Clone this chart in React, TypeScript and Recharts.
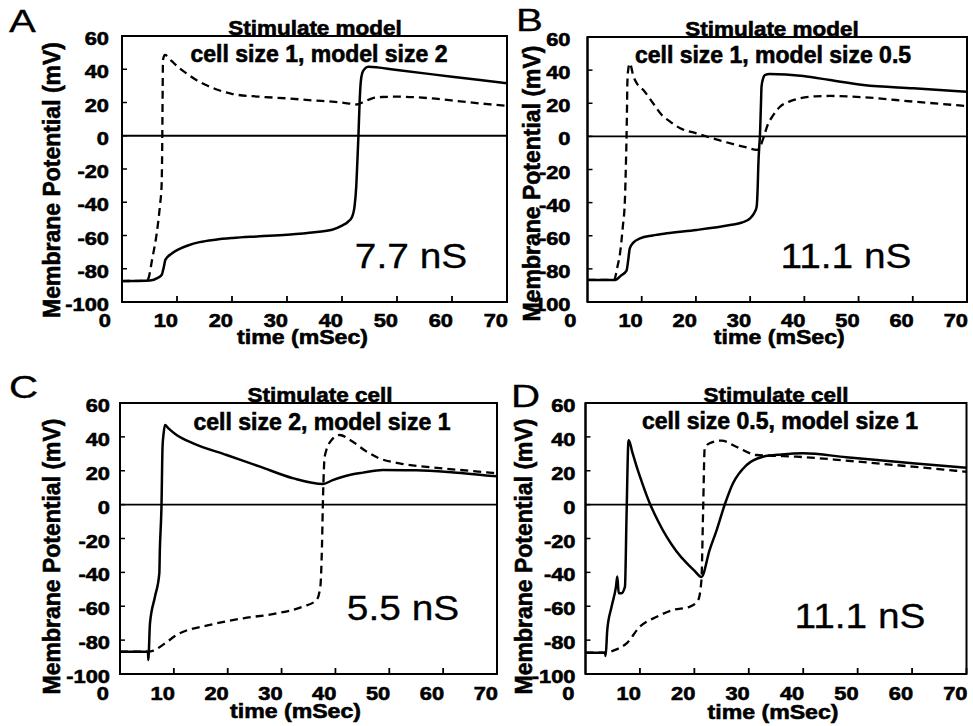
import React from 'react';
import { LineChart, Line, XAxis, YAxis, ReferenceLine, ReferenceArea } from 'recharts';

const FONT = '"Liberation Sans", Arial, Helvetica, sans-serif';

const timeTicks = [0, 10, 20, 30, 40, 50, 60, 70];
const voltTicks = [-100, -80, -60, -40, -20, 0, 20, 40, 60];

// Panel A — Stimulate model, cell size 1, model size 2 (7.7 nS)
const aCellT = [0, 5.1, 6.5, 7.2, 7.6, 7.9, 9, 10.2, 12, 14.1, 17, 20.1, 25, 30, 35, 38.2, 40, 41, 41.8, 42.3, 42.6, 42.8, 43, 43.2, 43.4, 43.7, 44.2, 44.8, 50, 60, 70];
const aCellV = [-87.4, -87, -85.5, -83.8, -79, -74.5, -71, -68.5, -66, -64, -62.5, -61.5, -60.5, -59.5, -58, -56.5, -54, -52, -49, -42, -30, -15, 1, 20, 32, 38, 40.5, 41.5, 39.5, 35.5, 31.5];
const aModelT = [0, 4.4, 4.8, 5.5, 6.3, 6.9, 7.2, 7.3, 7.35, 7.4, 7.45, 7.8, 9, 10.5, 11.7, 13.5, 15.3, 17.5, 20.1, 25, 30, 35, 38.2, 41, 42.7, 44, 45.5, 47.3, 50, 56.3, 62, 66.5, 70];
const aModelV = [-87.4, -87.2, -85.8, -74, -59, -42, -30, -10, 10, 30, 45.6, 48.6, 45, 40.5, 37.6, 33.5, 30.5, 27.5, 25.1, 23.5, 22.5, 21.2, 20.5, 19.5, 18.8, 20.5, 22.5, 23.3, 23.5, 22.5, 20.5, 19, 18];

// Panel B — Stimulate model, cell size 1, model size 0.5 (11.1 nS)
const bCellT = [0, 5.07, 6.2, 7.2, 7.5, 7.8, 8.5, 9.7, 12, 14.6, 20.1, 26.3, 28.5, 30, 30.8, 31.2, 31.4, 31.5, 31.7, 31.8, 32, 32.1, 32.4, 32.7, 33.6, 39.8, 44.7, 50.9, 60.1, 70];
const bCellV = [-86.7, -86.7, -84, -81.1, -75, -67.6, -64, -61.6, -59.8, -58.5, -56.5, -53.5, -52, -49.5, -46, -42.5, -30, -18.3, -5, -0.2, 20, 30, 35, 37, 37.6, 36.4, 34, 31, 29, 27];
const bModelT = [0, 4.9, 5.5, 6, 6.5, 6.9, 7.1, 7.2, 7.3, 7.35, 7.5, 7.8, 8.5, 9.1, 10.3, 12.1, 13.7, 15, 17.1, 20.1, 23.2, 26.9, 29.5, 31.2, 31.8, 32.1, 32.6, 33.1, 34.2, 35.5, 37.2, 39.2, 42, 44.7, 50.9, 60.1, 70];
const bModelV = [-86.7, -86.7, -79, -70.6, -55, -38.4, -15, -0.6, 20, 32, 40, 44, 36, 32, 28, 20, 12.9, 9.5, 4.9, 1.8, -1.3, -4.7, -6.8, -8.2, -6.5, -4.2, 0.5, 5.8, 12.5, 17.9, 21, 23, 24.2, 24.4, 23.6, 21, 18.3];

// Panel C — Stimulate cell, cell size 2, model size 1 (5.5 nS)
const cCellT = [0, 5.2, 5.25, 5.57, 6.5, 7.3, 7.4, 7.7, 7.9, 8.1, 8.35, 9, 10.5, 13.6, 19.8, 26, 32.2, 37.7, 39.5, 41.4, 43, 45.1, 48.8, 55, 62, 68.6, 70];
const cCellV = [-86.8, -86.8, -91.7, -70, -54.3, -40.6, -26.8, -1.2, 34.2, 42, 47, 45, 41.1, 36.2, 29.3, 22.4, 15.5, 12.2, 14.5, 16.5, 17.8, 18.9, 20.4, 20.3, 19, 17.1, 16.8];
const cModelT = [0, 5.3, 6.2, 8.35, 10.5, 16.7, 22.9, 29.1, 34, 36.5, 37.2, 37.5, 37.7, 38, 39.3, 40.8, 42.7, 45.8, 48, 51.9, 58, 63, 68.6, 70];
const cModelV = [-86.8, -86.8, -86.2, -81.9, -77, -71, -67.1, -64.2, -60.2, -56.3, -48.4, -24.8, 4.7, 28.3, 38.2, 41.1, 38.2, 31.3, 27.5, 24.4, 22, 20.5, 18.9, 18.5];

// Panel D — Stimulate cell, cell size 0.5, model size 1 (11.1 nS)
const dCellT = [0, 3.58, 3.7, 4.0, 4.8, 5.6, 5.84, 6.1, 6.6, 7.25, 7.55, 7.86, 7.95, 8.6, 9.4, 10.5, 11.8, 13.3, 14.9, 16.7, 18.6, 20, 21.3, 22.8, 24.1, 25.6, 27.1, 29.6, 32.6, 36, 40, 47.9, 60.1, 70];
const dCellV = [-87.4, -87.4, -89.3, -74, -60.2, -48.4, -42.5, -52.3, -52.3, -48.4, -5.1, 36.2, 38, 31, 22.4, 12, 0.8, -9.5, -18.9, -27.5, -34.6, -39, -42.7, -26.8, -15, 0.2, 12.6, 23.4, 28.3, 29.6, 30.3, 28, 24.4, 21.8];
const dModelT = [0, 3.6, 5.4, 7.55, 10, 13.1, 16.1, 19.2, 20.7, 21.3, 21.6, 21.9, 22.8, 25, 27.7, 31.4, 34.5, 38.8, 47.9, 60.1, 70];
const dModelV = [-87.4, -87.4, -85.8, -81.9, -72, -66.2, -62.2, -60.2, -56.3, -44.5, -5.1, 33.3, 36.2, 37.8, 34.2, 29.3, 28.8, 28.3, 26, 22.4, 19.4];

const zip = (ts: number[], vs: number[]) => ts.map((t, i) => ({ t, v: vs[i] }));

type STextProps = {
  x: number;
  y: number;
  size: number;
  sx?: number;
  bold?: boolean;
  anchor?: 'start' | 'middle' | 'end';
  rotate?: number;
  baseline?: string;
  children: React.ReactNode;
};

const SText = ({ x, y, size, sx = 1, bold = false, anchor = 'start', rotate = 0, baseline, children }: STextProps) => (
  <g transform={`translate(${x},${y}) rotate(${rotate}) scale(${sx},1)`}>
    <text
      x={0}
      y={0}
      textAnchor={anchor}
      dominantBaseline={baseline}
      fontFamily={FONT}
      fontWeight={bold ? 'bold' : 'normal'}
      fontSize={size}
      fill="#000"
      stroke="#000"
      strokeWidth={bold ? 0.6 : 0.3}
    >
      {children}
    </text>
  </g>
);

type PanelProps = {
  left: number;
  top: number;
  width: number;
  height: number;
  margin: { top: number; right: number; bottom: number; left: number };
  cell: { t: number; v: number }[];
  model: { t: number; v: number }[];
  yTickGap: number;
  yLabelOffset: number;
  yLabelDy: number;
  xLabelDx: number;
  xLabelDy: number;
  xTickDy: number;
};

const XTick = (props: any) => {
  const { x, y, payload, dy } = props;
  const val = payload.value;
  const dx = val === 0 ? -11 : 1;
  return (
    <g>
      {val !== 0 && <line x1={x} x2={x} y1={y} y2={y - 6} stroke="#000" strokeWidth={1.8} />}
      <SText x={x + dx} y={y + dy} size={19} sx={1.15} bold anchor="end">
        {val}
      </SText>
    </g>
  );
};

const YTick = (props: any) => {
  const { x, y, payload, gap } = props;
  const val = payload.value;
  return (
    <g>
      {val !== 60 && val !== -100 && <line x1={x} x2={x + 5} y1={y} y2={y} stroke="#000" strokeWidth={1.5} />}
      <SText x={x - gap} y={y + 9} size={19} sx={1.15} bold anchor="end">
        {val}
      </SText>
    </g>
  );
};

const Panel = (p: PanelProps) => {
  return (
    <div style={{ position: 'absolute', left: p.left, top: p.top }}>
      <LineChart width={p.width} height={p.height} margin={p.margin}>
        <XAxis
          type="number"
          dataKey="t"
          domain={[0, 70]}
          ticks={timeTicks}
          interval={0}
          allowDataOverflow
          height={40}
          tickSize={0}
          tickMargin={0}
          tickLine={false}
          axisLine={{ stroke: '#000', strokeWidth: 2 }}
          tick={(tp: any) => <XTick {...tp} dy={p.xTickDy} />}
          label={(lp: any) => {
            const vb = lp.viewBox;
            return (
              <SText x={vb.x + vb.width / 2 + p.xLabelDx} y={vb.y + p.xLabelDy} size={21} sx={1.1} bold anchor="middle">
                time (mSec)
              </SText>
            );
          }}
        />
        <YAxis
          type="number"
          domain={[-100, 60]}
          ticks={voltTicks}
          interval={0}
          allowDataOverflow
          width={60}
          tickSize={0}
          tickMargin={0}
          tickLine={false}
          axisLine={{ stroke: '#000', strokeWidth: 2 }}
          tick={(tp: any) => <YTick {...tp} gap={p.yTickGap} />}
          label={(lp: any) => {
            const vb = lp.viewBox;
            const cx = vb.x + vb.width + p.yLabelOffset;
            const cy = vb.y + vb.height / 2 + p.yLabelDy;
            return (
              <SText x={cx} y={cy} size={23} bold anchor="middle" rotate={-90} baseline="central">
                Membrane Potential (mV)
              </SText>
            );
          }}
        />
        <ReferenceArea x1={0} x2={70} y1={-100} y2={60} fill="none" fillOpacity={0} stroke="#000" strokeWidth={2} ifOverflow="visible" />
        <ReferenceLine y={0} stroke="#000" strokeWidth={1.8} />
        <Line
          data={p.model}
          dataKey="v"
          type="monotone"
          stroke="#000"
          strokeWidth={2.3}
          strokeDasharray="8 5"
          dot={false}
          isAnimationActive={false}
        />
        <Line
          data={p.cell}
          dataKey="v"
          type="monotone"
          stroke="#000"
          strokeWidth={2.5}
          dot={false}
          isAnimationActive={false}
        />
      </LineChart>
    </div>
  );
};

export default function App() {
  return (
    <div style={{ position: 'absolute', left: 0, top: 0, width: 973, height: 726, background: '#fff', overflow: 'hidden' }}>
      <Panel
        left={0}
        top={0}
        width={510}
        height={360}
        margin={{ top: 36, right: 3, bottom: 18, left: 62 }}
        cell={zip(aCellT, aCellV)}
        model={zip(aModelT, aModelV)}
        yTickGap={13}
        yLabelOffset={-70}
        yLabelDy={11}
        xLabelDx={-12}
        xLabelDy={42}
        xTickDy={25}
      />
      <Panel
        left={490}
        top={0}
        width={483}
        height={360}
        margin={{ top: 37, right: 6, bottom: 18, left: 37.5 }}
        cell={zip(bCellT, bCellV)}
        model={zip(bModelT, bModelV)}
        yTickGap={17}
        yLabelOffset={-56}
        yLabelDy={14}
        xLabelDx={2}
        xLabelDy={42}
        xTickDy={25}
      />
      <Panel
        left={0}
        top={360}
        width={510}
        height={366}
        margin={{ top: 43, right: 13, bottom: 12, left: 60 }}
        cell={zip(cCellT, cCellV)}
        model={zip(cModelT, cModelV)}
        yTickGap={10}
        yLabelOffset={-68}
        yLabelDy={18}
        xLabelDx={-13}
        xLabelDy={44}
        xTickDy={26}
      />
      <Panel
        left={490}
        top={360}
        width={483}
        height={366}
        margin={{ top: 43, right: 6.5, bottom: 12, left: 35.5 }}
        cell={zip(dCellT, dCellV)}
        model={zip(dModelT, dModelV)}
        yTickGap={10}
        yLabelOffset={-62}
        yLabelDy={18}
        xLabelDx={-3}
        xLabelDy={45}
        xTickDy={26}
      />
      <svg width={973} height={726} style={{ position: 'absolute', left: 0, top: 0, pointerEvents: 'none' }}>
        <SText x={9} y={32} size={31} sx={1.3}>A</SText>
        <SText x={516} y={31} size={31} sx={1.3}>B</SText>
        <SText x={9} y={398} size={31} sx={1.3}>C</SText>
        <SText x={511} y={407} size={31} sx={1.3}>D</SText>

        <SText x={315} y={35} size={21} sx={1.07} bold anchor="middle">Stimulate model</SText>
        <SText x={319} y={62} size={23} bold anchor="middle">cell size 1, model size 2</SText>
        <SText x={772} y={36} size={21} sx={1.07} bold anchor="middle">Stimulate model</SText>
        <SText x={773} y={63} size={23} bold anchor="middle">cell size 1, model size 0.5</SText>
        <SText x={320} y={402} size={21} sx={1.07} bold anchor="middle">Stimulate cell</SText>
        <SText x={322} y={430} size={23} bold anchor="middle">cell size 2, model size 1</SText>
        <SText x={776} y={402} size={21} sx={1.07} bold anchor="middle">Stimulate cell</SText>
        <SText x={780} y={429} size={23} bold anchor="middle">cell size 0.5, model size 1</SText>

        <SText x={411} y={268} size={36} sx={1.08} anchor="middle">7.7 nS</SText>
        <SText x={846} y={268} size={36} sx={1.08} anchor="middle">11.1 nS</SText>
        <SText x={403} y={620} size={36} sx={1.08} anchor="middle">5.5 nS</SText>
        <SText x={860} y={628} size={36} sx={1.08} anchor="middle">11.1 nS</SText>
      </svg>
    </div>
  );
}
